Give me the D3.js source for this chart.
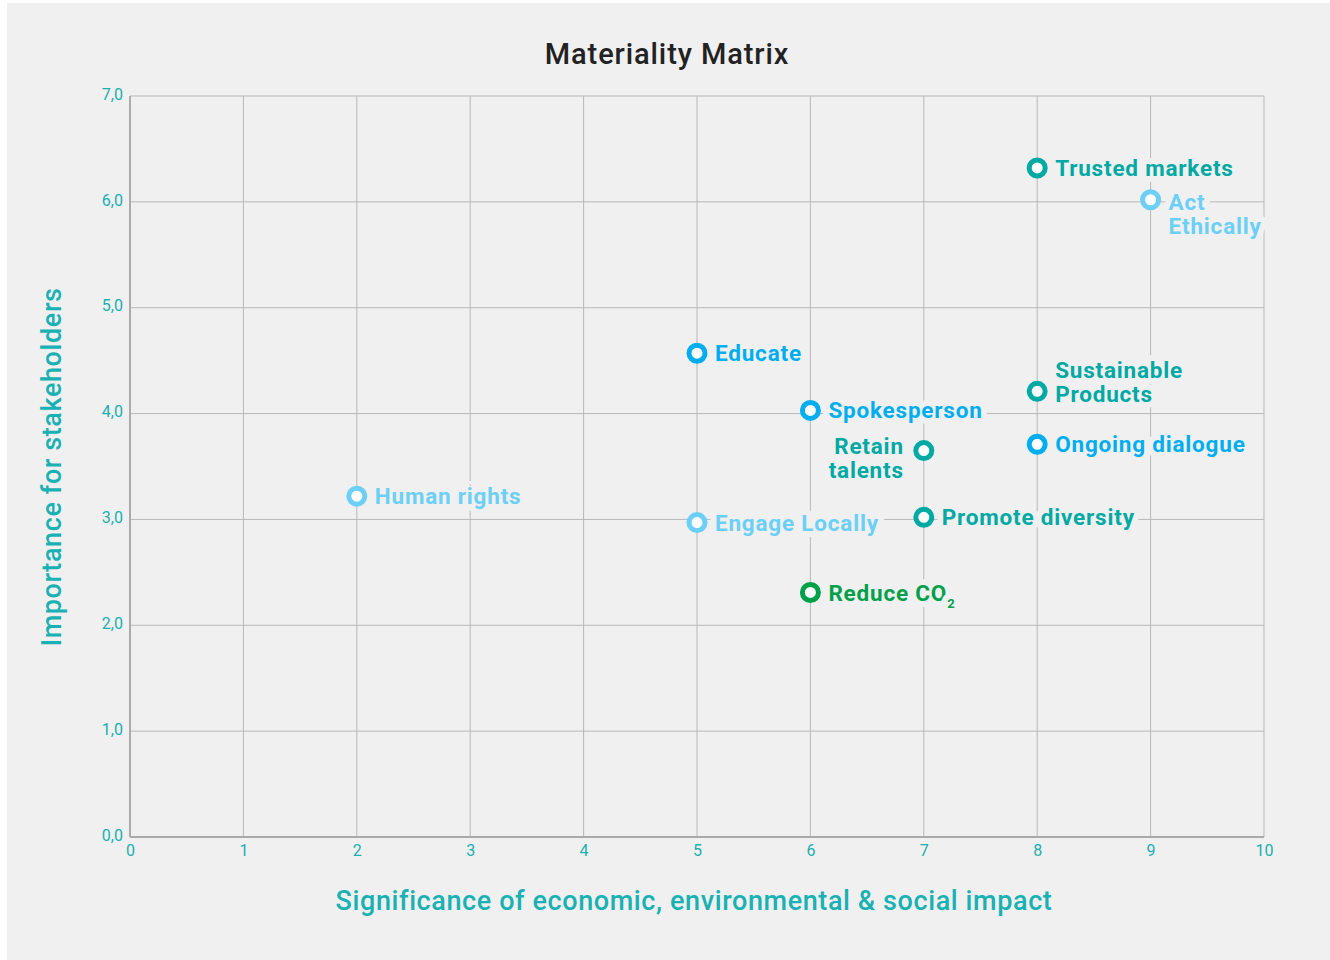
<!DOCTYPE html>
<html>
<head>
<meta charset="utf-8">
<script src="https://cdn.jsdelivr.net/npm/d3@7"></script>
<style>
  body { margin: 0; background: #fff; }
  svg { display: block; font-family: Roboto, "Open Sans", sans-serif; }
</style>
</head>
<body>
<svg id="chart"></svg>
<script>
/* Data */
const topics = ["Trusted markets", "Act Ethically", "Educate", "Sustainable Products", "Spokesperson",
  "Ongoing dialogue", "Retain talents", "Human rights", "Engage Locally", "Promote diversity", "Reduce CO2"];
const significance = [8, 9, 5, 8, 6, 8, 7, 2, 5, 7, 6];
const importance = [6.32, 6.02, 4.57, 4.21, 4.03, 3.71, 3.65, 3.22, 2.97, 3.02, 2.31];
const groups = ["teal", "light", "blue", "teal", "blue", "blue", "teal", "light", "light", "teal", "green"];
const xTicks = [0, 1, 2, 3, 4, 5, 6, 7, 8, 9, 10];
const yTicks = [0, 1, 2, 3, 4, 5, 6, 7];

const colors = { teal: "#00a9a4", light: "#6ccff6", blue: "#00aeef", green: "#00a04b" };
const bg = "#f0f0f0";

/* Dimensions */
const W = 1330, H = 960;
const margin = { top: 96, right: 66, bottom: 123, left: 130 };
const width = W - margin.left - margin.right;
const height = H - margin.top - margin.bottom;

const svg = d3.select("#chart").attr("width", W).attr("height", H);
svg.append("rect").attr("x", 7).attr("y", 3).attr("width", W - 7).attr("height", H - 3).attr("fill", bg);

const g = svg.append("g").attr("transform", `translate(${margin.left},${margin.top})`);

/* Scales */
const x = d3.scaleLinear().domain([0, 10]).range([0, width]);
const y = d3.scaleLinear().domain([0, 7]).range([height, 0]);

/* Grid */
g.append("g").selectAll("line").data(xTicks).join("line")
  .attr("x1", d => x(d)).attr("x2", d => x(d)).attr("y1", 0).attr("y2", height)
  .attr("stroke", "#b8b8b8").attr("stroke-width", 1);
g.append("g").selectAll("line").data(yTicks).join("line")
  .attr("x1", 0).attr("x2", width).attr("y1", d => y(d)).attr("y2", d => y(d))
  .attr("stroke", "#b8b8b8").attr("stroke-width", 1);
g.append("line").attr("x1", 0).attr("x2", 0).attr("y1", 0).attr("y2", height)
  .attr("stroke", "#aaa").attr("stroke-width", 2);
g.append("line").attr("x1", 0).attr("x2", width).attr("y1", height).attr("y2", height)
  .attr("stroke", "#aaa").attr("stroke-width", 2);

/* Axes */
const xAxis = g.append("g").attr("transform", `translate(0,${height})`)
  .call(d3.axisBottom(x).tickValues(xTicks).tickSize(0).tickPadding(8).tickFormat(d3.format("d")));
const yAxis = g.append("g")
  .call(d3.axisLeft(y).tickValues(yTicks).tickSize(0).tickPadding(7).tickFormat(d => d.toFixed(1).replace(".", ",")));
[xAxis, yAxis].forEach(a => {
  a.select(".domain").remove();
  a.selectAll("text").attr("fill", "#1aafb0").style("font-size", "16px")
    .style("font-family", "Roboto, sans-serif");
});
yAxis.selectAll("text").attr("dy", "0.2em");

/* Titles */
svg.append("text").attr("x", 667).attr("y", 64).attr("text-anchor", "middle")
  .attr("fill", "#222").style("font-size", "29px").style("font-weight", 500)
  .style("letter-spacing", "0.9px")
  .text("Materiality Matrix");
svg.append("text").attr("x", 694).attr("y", 910).attr("text-anchor", "middle")
  .attr("fill", "#19b1b3").style("font-size", "27px").style("font-weight", 500)
  .style("letter-spacing", "0.6px")
  .text("Significance of economic, environmental & social impact");
svg.append("text").attr("transform", "translate(61,467) rotate(-90)").attr("text-anchor", "middle")
  .attr("fill", "#19b1b3").style("font-size", "27px").style("font-weight", 500)
  .style("letter-spacing", "0.6px")
  .text("Importance for stakeholders");

/* Points and labels */
const data = topics.map((t, i) => ({ t, sx: significance[i], iy: importance[i], c: colors[groups[i]] }));

const labelLines = {
  "Act Ethically": ["Act", "Ethically"],
  "Sustainable Products": ["Sustainable", "Products"],
  "Retain talents": ["Retain", "talents"]
};

const lab = g.append("g");
data.forEach(d => {
  const px = x(d.sx), py = y(d.iy);
  const lines = labelLines[d.t] || [d.t];
  const left = d.t === "Retain talents";
  let ly = py;
  if (d.t === "Act Ethically") ly = py + 2;
  if (d.t === "Sustainable Products") ly = py - 21;
  if (d.t === "Retain talents") ly = py - 5;
  const tx = left ? px - 20 : px + 18;
  lines.forEach((ln, k) => {
    const txt = lab.append("text")
      .attr("x", tx).attr("y", ly + k * 24).attr("dy", "0.36em")
      .attr("text-anchor", left ? "end" : "start")
      .attr("fill", d.c)
      .attr("stroke", bg).attr("stroke-width", 12).attr("stroke-linejoin", "round")
      .attr("paint-order", "stroke")
      .style("font-size", "22.5px").style("font-weight", 700).style("letter-spacing", "0.8px");
    if (ln === "Reduce CO2") {
      txt.append("tspan").text("Reduce CO");
      txt.append("tspan").attr("dy", "0.55em").style("font-size", "13px").text("2");
    } else {
      txt.text(ln);
    }
  });
});

g.append("g").selectAll("circle").data(data).join("circle")
  .attr("cx", d => x(d.sx)).attr("cy", d => y(d.iy)).attr("r", 8)
  .attr("fill", "#fff").attr("stroke", d => d.c).attr("stroke-width", 5);
</script>
</body>
</html>
